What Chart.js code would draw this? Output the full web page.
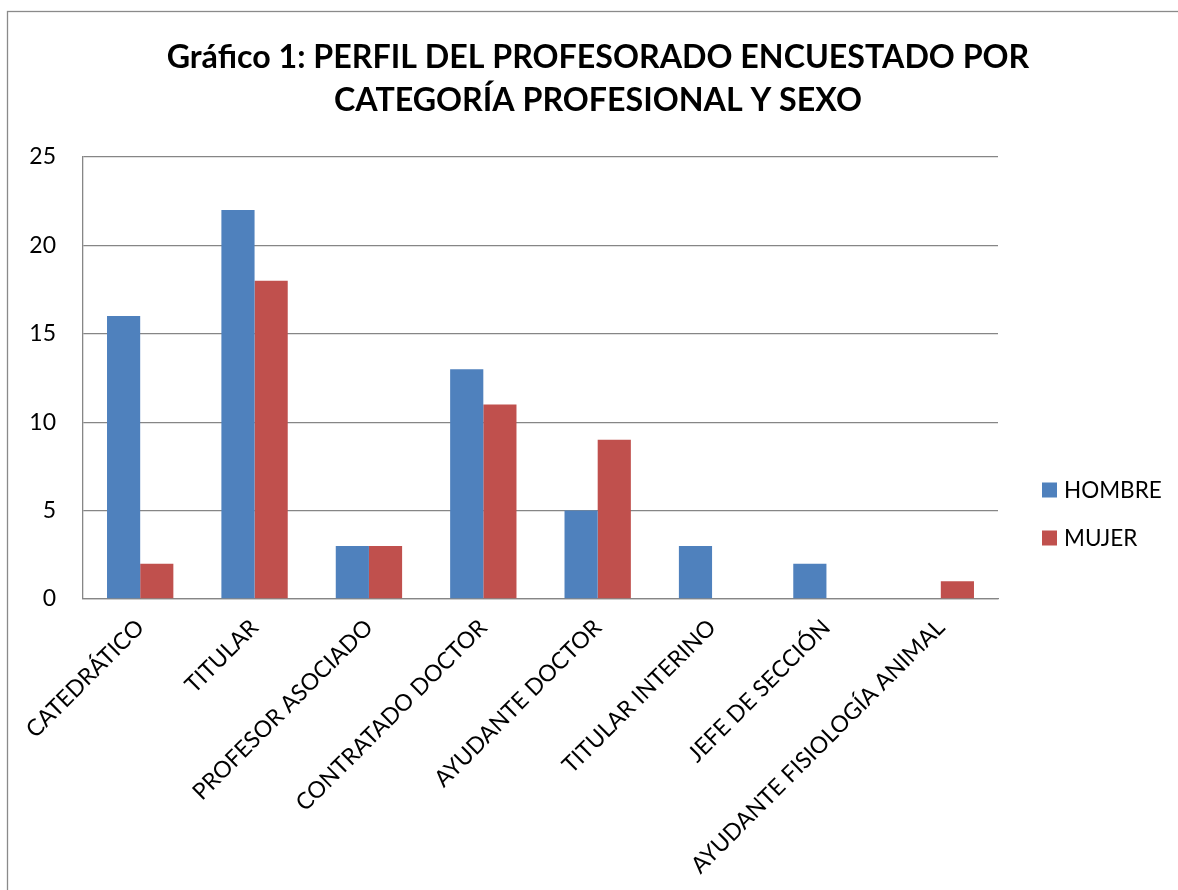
<!DOCTYPE html>
<html>
<head>
<meta charset="utf-8">
<script src="https://cdn.jsdelivr.net/npm/chart.js@4/dist/chart.umd.min.js"></script>
<style>
html,body{margin:0;padding:0;background:#fff;}
canvas{display:block;}
</style>
</head>
<body>
<canvas id="c" width="1178" height="890"></canvas>
<script>
const titleLines = ["Gráfico 1: PERFIL DEL PROFESORADO ENCUESTADO POR", "CATEGORÍA PROFESIONAL Y SEXO"];
const categories = ["CATEDRÁTICO", "TITULAR", "PROFESOR ASOCIADO", "CONTRATADO DOCTOR", "AYUDANTE DOCTOR", "TITULAR INTERINO", "JEFE DE SECCIÓN", "AYUDANTE FISIOLOGÍA ANIMAL"];
const seriesNames = ["HOMBRE", "MUJER"];
const hombre = [16, 22, 3, 13, 5, 3, 2, 0];
const mujer = [2, 18, 3, 11, 9, 0, 0, 1];
const yTicks = [0, 5, 10, 15, 20, 25];

const FONT = "Lato, 'Open Sans', sans-serif";
const GRID = '#868686';

const frame = {
  id: 'frame',
  beforeDraw(chart) {
    const ctx = chart.ctx;
    ctx.save();
    ctx.fillStyle = '#fff';
    ctx.fillRect(0, 0, chart.width, chart.height);
    ctx.strokeStyle = '#8a8a8a';
    ctx.lineWidth = 1.3;
    ctx.strokeRect(7.5, 11.5, 1400, 1000);
    ctx.restore();
  }
};

const sideLegend = {
  id: 'sideLegend',
  afterDraw(chart) {
    const ctx = chart.ctx;
    ctx.save();
    ctx.font = "22.5px " + FONT;
    ctx.textBaseline = 'middle';
    ctx.textAlign = 'left';
    chart.data.datasets.forEach((ds, i) => {
      const cy = 490 + i * 48;
      ctx.fillStyle = ds.backgroundColor;
      ctx.fillRect(1042, cy - 7.5, 15, 15);
      ctx.fillStyle = '#000';
      ctx.fillText(ds.label, 1064, cy + 1);
    });
    ctx.restore();
  }
};

new Chart(document.getElementById('c'), {
  type: 'bar',
  data: {
    labels: categories,
    datasets: [
      { label: seriesNames[0], data: hombre, backgroundColor: '#4F81BD', barPercentage: 1, categoryPercentage: 0.58 },
      { label: seriesNames[1], data: mujer, backgroundColor: '#C0504D', barPercentage: 1, categoryPercentage: 0.58 }
    ]
  },
  options: {
    responsive: false,
    animation: false,
    devicePixelRatio: 1,
    layout: { padding: { left: 18, right: 0, top: 0, bottom: 0 } },
    plugins: {
      legend: { display: false },
      tooltip: { enabled: false },
      title: {
        display: true,
        text: titleLines,
        color: '#000',
        font: { family: FONT, size: 32.2, weight: 'bold', lineHeight: 1.335 },
        padding: { top: 36.5, bottom: 34.5 }
      }
    },
    scales: {
      x: {
        grid: { display: false, drawTicks: false },
        border: { display: true, color: GRID, width: 1.3 },
        ticks: {
          autoSkip: false, maxRotation: 45, minRotation: 45,
          color: '#000', padding: 15,
          font: { family: FONT, size: 23 }
        },
        afterFit(s) { s.height = 890 - 599; }
      },
      y: {
        min: 0, max: 25,
        grid: { color: GRID, lineWidth: 1.3, drawTicks: false },
        border: { display: true, color: GRID, width: 1.3 },
        afterBuildTicks(s) { s.ticks = yTicks.map(v => ({ value: v })); },
        ticks: { color: '#000', padding: 27, font: { family: FONT, size: 23 } },
        afterFit(s) { s.width = 83 - 18; }
      },
      spacer: {
        type: 'linear', position: 'right', display: true,
        grid: { display: false, drawTicks: false },
        border: { display: false },
        ticks: { display: false },
        afterFit(s) { s.width = 1178 - 998; }
      }
    }
  },
  plugins: [frame, sideLegend]
});
</script>
</body>
</html>
